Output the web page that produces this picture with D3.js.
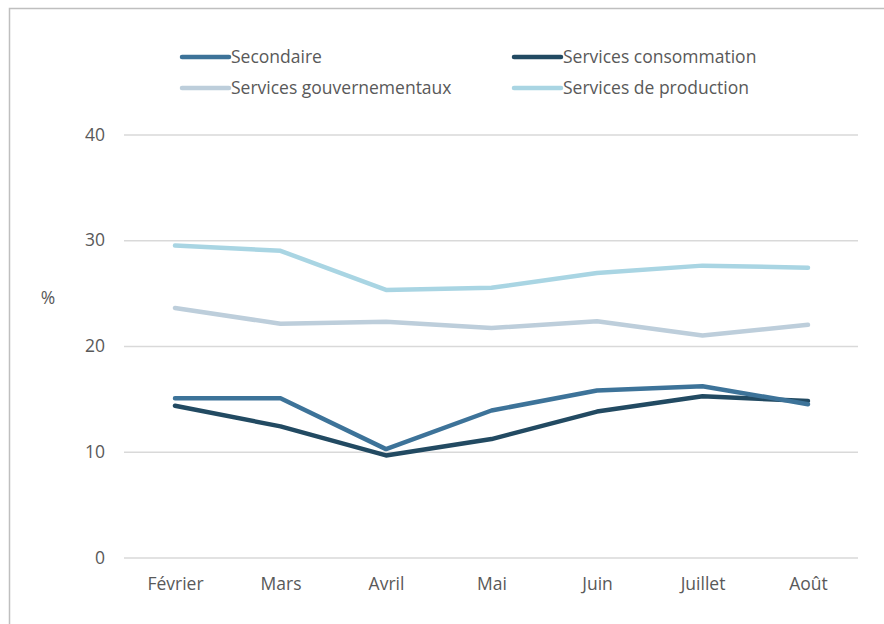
<!DOCTYPE html>
<html><head><meta charset="utf-8">
<script src="https://cdn.jsdelivr.net/npm/d3@7"></script>
<style>body{margin:0;background:#fff}svg{display:block}text{font-family:"Open Sans",sans-serif}</style>
</head><body>
<svg id="c" width="884" height="624"></svg>
<script>
const months = ["Février","Mars","Avril","Mai","Juin","Juillet","Août"];
const secondaire = [15.05,15.05,10.25,13.9,15.8,16.2,14.5];
const consommation = [14.35,12.4,9.65,11.2,13.8,15.25,14.8];
const gouvernementaux = [23.6,22.1,22.3,21.7,22.35,21.0,22.0];
const production = [29.5,29.0,25.3,25.5,26.9,27.6,27.4];
const yTicks = [0,10,20,30,40];

const series = [
  {name:"Secondaire", values:secondaire, color:"#3d7399"},
  {name:"Services consommation", values:consommation, color:"#224a62"},
  {name:"Services gouvernementaux", values:gouvernementaux, color:"#bdcedb"},
  {name:"Services de production", values:production, color:"#a9d5e3"}
];

const svg = d3.select("#c");
// frame
svg.append("path").attr("d","M9.5,624 V8.5 H884").attr("fill","none").attr("stroke","#bfbfbf").attr("stroke-width",1.5);

const x = d3.scalePoint().domain(months).range([175,808]);
const y = d3.scaleLinear().domain([0,40]).range([557.5,134.5]);

// gridlines
const yAxis = d3.axisLeft(y).tickValues(yTicks).tickSize(-734).tickPadding(18);
const gy = svg.append("g").attr("transform","translate(124,0)").call(yAxis);
gy.select(".domain").remove();
gy.selectAll(".tick line").attr("stroke","#d9d9d9").attr("stroke-width",1.3);
gy.selectAll(".tick text").attr("fill","#595959").style("font-size","17.5px").attr("x",-19);

const xAxis = d3.axisBottom(x).tickSize(0).tickPadding(0);
const gx = svg.append("g").attr("transform","translate(0,578)").call(xAxis);
gx.select(".domain").remove();
gx.selectAll(".tick text").attr("fill","#595959").style("font-size","17.5px").attr("dy","0.71em");

svg.append("text").attr("x",48).attr("y",304).attr("text-anchor","middle").attr("fill","#595959").style("font-size","17.5px").text("%");

const line = d3.line().x((d,i)=>x(months[i])).y(d=>y(d));
const drawOrder = [series[2], series[3], series[1], series[0]];
drawOrder.forEach(s=>{
  svg.append("path").datum(s.values).attr("d",line).attr("fill","none")
    .attr("stroke",s.color).attr("stroke-width",4.5).attr("stroke-linejoin","round").attr("stroke-linecap","round");
});

// legend
const legPos = [[182,57],[514,57],[182,88],[514,88]];
series.forEach((s,i)=>{
  const [lx,ly] = legPos[i];
  const g = svg.append("g").attr("transform",`translate(${lx},${ly})`);
  g.append("line").attr("x1",0).attr("x2",47).attr("y1",0).attr("y2",0)
    .attr("stroke",s.color).attr("stroke-width",4.5).attr("stroke-linecap","round");
  g.append("text").attr("x",49).attr("y",0).attr("dy","0.35em").attr("fill","#595959")
    .style("font-size","17.5px").text(s.name);
});
</script>
</body></html>
